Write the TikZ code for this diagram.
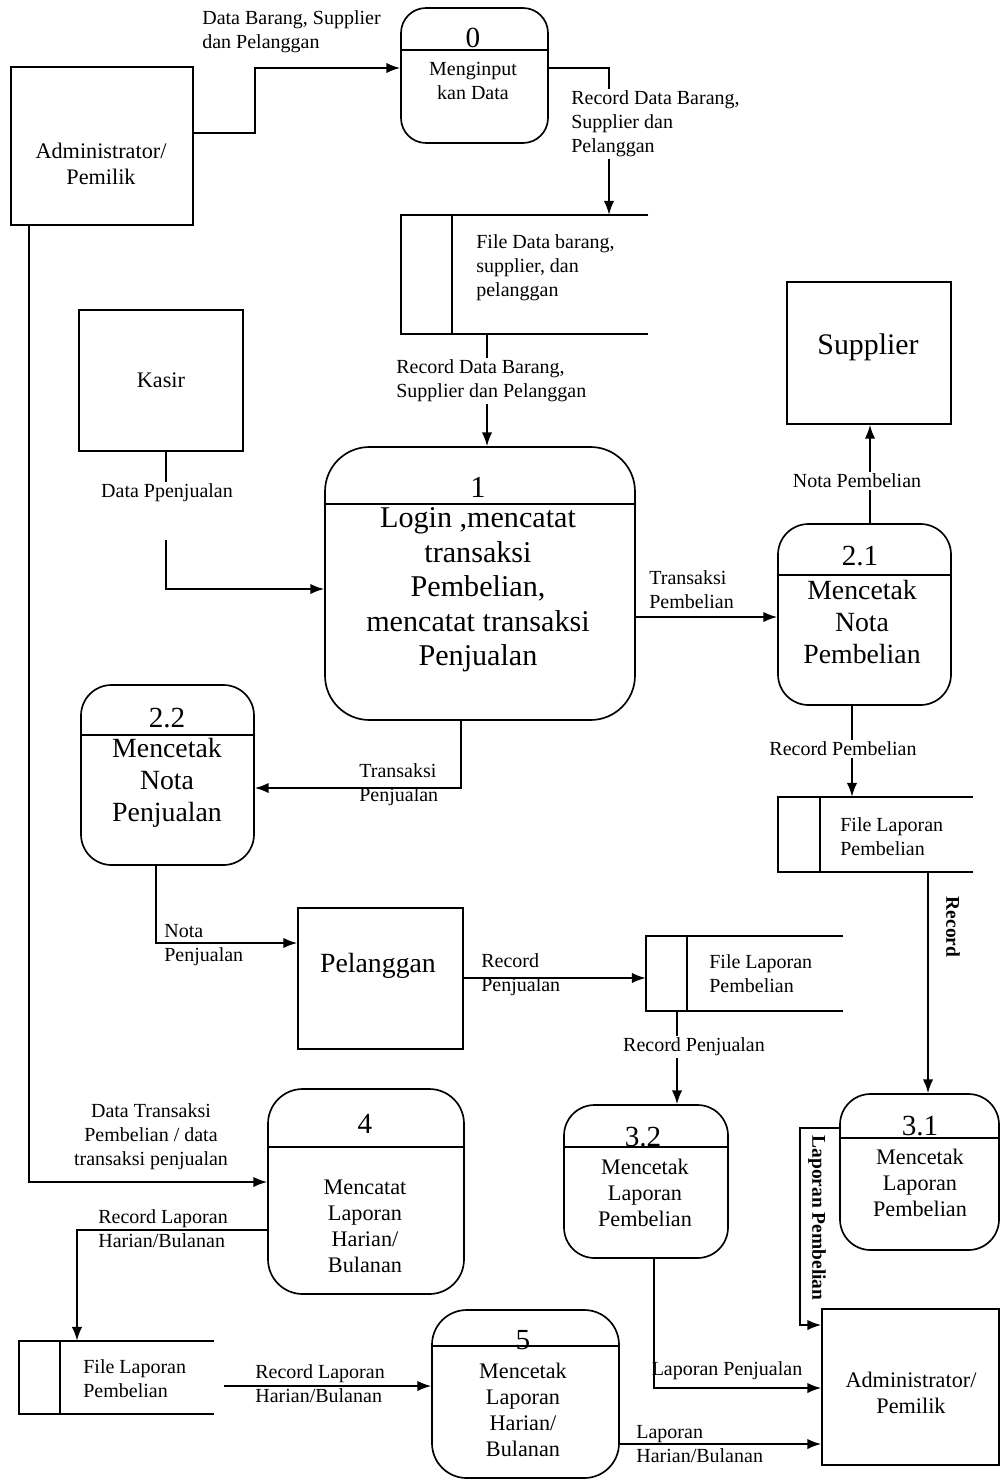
\documentclass[tikz,border=0pt]{standalone}
\usepackage{fontspec}
\setmainfont{Liberation Serif}
\usetikzlibrary{arrows.meta}
\tikzset{
    entity/.style = {rectangle, draw=black, line width=1.2pt, inner sep=0pt},
    proc/.style = {rectangle, draw=black, line width=1.2pt, rounded corners=22pt, inner sep=0pt},
    sz/.style 2 args = {minimum width=#1*0.72pt, minimum height=#2*0.72pt},
    store/.style = {rectangle, inner sep=0pt},
    wire/.style = {line width=1.2pt},
    flow/.style = {-{Latex[length=10pt,width=7.5pt]}, line width=1.2pt},
    lbl/.style = {align=left, inner sep=1.5pt, font=\fontsize{14.4}{17.3}\selectfont},
    lblv/.style = {rotate=-90, inner sep=1.5pt, font=\bfseries\fontsize{14}{17}\selectfont},
    numtxt/.style = {inner sep=0pt, font=\fontsize{21}{25}\selectfont},
    midtxt/.style = {align=center, inner sep=0pt, font=\fontsize{16}{18.7}\selectfont},
    bigtxt/.style = {align=center, inner sep=0pt, font=\fontsize{20}{23}\selectfont},
    hugetxt/.style = {align=center, inner sep=0pt, font=\fontsize{21.7}{24.8}\selectfont}
}
\begin{document}
\begin{tikzpicture}[x=0.72pt, y=-0.72pt]
\useasboundingbox (0,0) rectangle (1000,1480);
%
% external entities
\node[entity, sz={182}{158}] (adm1) at (102,146) {};
\node[midtxt] (adm1t) at (101,164) {Administrator/\\Pemilik};
\node[entity, midtxt, sz={164}{141}] (kasir) at (161,380.5) {Kasir};
\node[entity, sz={164}{142}] (sup) at (869,353) {};
\node[inner sep=0pt, font=\fontsize{21.5}{25}\selectfont] (supt) at (868,347) {Supplier};
\node[entity, sz={165}{141}] (pel) at (380.5,978.5) {};
\node[bigtxt] (pelt) at (378,966) {Pelanggan};
\node[entity, sz={177}{156}] (adm2) at (910.5,1387) {};
\node[midtxt] (adm2t) at (911,1393) {Administrator/\\Pemilik};
%
% processes
\node[proc, sz={147}{135}, rounded corners=18pt] (p0) at (474.5,75.5) {};
\draw[wire] (p0.west |- 0,50) -- (p0.east |- 0,50);
\node[numtxt] (p0n) at (473,38) {0};
\node[lbl, align=center] (p0t) at (473,81) {Menginput\\kan Data};
%
\node[proc, sz={310}{273}, rounded corners=32pt] (p1) at (480,583.5) {};
\draw[wire] (p1.west |- 0,504) -- (p1.east |- 0,504);
\node[numtxt, font=\fontsize{22}{26}\selectfont] (p1n) at (478,487) {1};
\node[hugetxt] (p1t) at (478,590) {Login ,mencatat\\transaksi\\Pembelian,\\mencatat transaksi\\Penjualan};
%
\node[proc, sz={173}{181}] (p21) at (864.5,614.5) {};
\draw[wire] (p21.west |- 0,575) -- (p21.east |- 0,575);
\node[numtxt] (p21n) at (860,556) {2.1};
\node[bigtxt] (p21t) at (862,622) {Mencetak\\Nota\\Pembelian};
%
\node[proc, sz={173}{180}] (p22) at (167.5,775) {};
\draw[wire] (p22.west |- 0,735) -- (p22.east |- 0,735);
\node[numtxt] (p22n) at (167,718) {2.2};
\node[bigtxt] (p22t) at (167,782.5) {Mencetak\\Nota\\Penjualan};
%
\node[proc, sz={164}{153}] (p32) at (646,1181.5) {};
\draw[wire] (p32.west |- 0,1147) -- (p32.east |- 0,1147);
\node[numtxt] (p32n) at (643,1137) {3.2};
\node[midtxt] (p32t) at (645,1193) {Mencetak\\Laporan\\Pembelian};
%
\node[proc, sz={159}{156}] (p31) at (919.5,1172) {};
\draw[wire] (p31.west |- 0,1138) -- (p31.east |- 0,1138);
\node[numtxt] (p31n) at (920,1126) {3.1};
\node[midtxt] (p31t) at (920,1183) {Mencetak\\Laporan\\Pembelian};
%
\node[proc, sz={196}{205}, rounded corners=25pt] (p4) at (366,1191.5) {};
\draw[wire] (p4.west |- 0,1147) -- (p4.east |- 0,1147);
\node[numtxt] (p4n) at (365,1124) {4};
\node[midtxt] (p4t) at (365,1226.5) {Mencatat\\Laporan\\Harian/\\Bulanan};
%
\node[proc, sz={187}{168}, rounded corners=25pt] (p5) at (525.5,1394) {};
\draw[wire] (p5.west |- 0,1346) -- (p5.east |- 0,1346);
\node[numtxt] (p5n) at (523,1340) {5};
\node[midtxt] (p5t) at (523,1410) {Mencetak\\Laporan\\Harian/\\Bulanan};
%
% data stores
\node[store, sz={247}{119}] (s1) at (524.5,274.5) {};
\draw[wire] (s1.north east) -- (s1.north west) -- (s1.south west) -- (s1.south east);
\draw[wire] ([xshift=36.7pt]s1.north west) -- ([xshift=36.7pt]s1.south west);
\node[lbl, anchor=west] (s1t) at (474,267.5) {File Data barang,\\supplier, dan\\pelanggan};
%
\node[store, sz={195}{75}] (s2) at (875.5,834.5) {};
\draw[wire] (s2.north east) -- (s2.north west) -- (s2.south west) -- (s2.south east);
\draw[wire] ([xshift=30.2pt]s2.north west) -- ([xshift=30.2pt]s2.south west);
\node[lbl, anchor=west] (s2t) at (838,837) {File Laporan\\Pembelian};
%
\node[store, sz={197}{75}] (s3) at (744.5,973.5) {};
\draw[wire] (s3.north east) -- (s3.north west) -- (s3.south west) -- (s3.south east);
\draw[wire] ([xshift=29.5pt]s3.north west) -- ([xshift=29.5pt]s3.south west);
\node[lbl, anchor=west] (s3t) at (707,973.5) {File Laporan\\Pembelian};
%
\node[store, sz={195}{73}] (s4) at (116.5,1377.5) {};
\draw[wire] (s4.north east) -- (s4.north west) -- (s4.south west) -- (s4.south east);
\draw[wire] ([xshift=29.5pt]s4.north west) -- ([xshift=29.5pt]s4.south west);
\node[lbl, anchor=west] (s4t) at (81,1378.5) {File Laporan\\Pembelian};
%
% flow labels
\node[lbl, anchor=west] (l1) at (200,32) {Data Barang, Supplier\\dan Pelanggan};
\node[lbl, anchor=west] (l2) at (569,124) {Record Data Barang,\\Supplier dan\\Pelanggan};
\node[lbl, anchor=west] (l3) at (394,381) {Record Data Barang,\\Supplier dan Pelanggan};
\node[lbl] (l4) at (167,493) {Data Ppenjualan};
\node[lbl, anchor=west] (l5) at (647,590) {Transaksi\\Pembelian};
\node[lbl] (l6) at (857,481) {Nota Pembelian};
\node[lbl] (l7) at (843,749) {Record Pembelian};
\node[lblv] (l8) at (953,927) {Record};
\node[lblv] (l9) at (817,1218) {Laporan Pembelian};
\node[lbl, anchor=west] (l10) at (357,785) {Transaksi\\Penjualan};
\node[lbl, anchor=west] (l11) at (162,945) {Nota\\Penjualan};
\node[lbl, anchor=west] (l12) at (479,975) {Record\\Penjualan};
\node[lbl] (l13) at (694,1047) {Record Penjualan};
\node[lbl] (l14) at (727,1371) {Laporan Penjualan};
\node[lbl, align=center] (l15) at (151,1136.5) {Data Transaksi\\Pembelian / data\\transaksi penjualan};
\node[lbl, anchor=west] (l16) at (96,1228.5) {Record Laporan\\Harian/Bulanan};
\node[lbl, anchor=west] (l17) at (253,1384) {Record Laporan\\Harian/Bulanan};
\node[lbl, anchor=west] (l18) at (634,1444.5) {Laporan\\Harian/Bulanan};
%
\coordinate (k1) at (166,540);
\coordinate (s4out) at (224,1386);
%
% flows
\draw[flow] (adm1.east |- 0,133) -- (255,133) |- (p0.west |- 0,68);
\draw[wire] (p0.east |- 0,68) -| (l2.north -| 609,0);
\draw[flow] (l2.south -| 609,0) -- (s1.north -| 609,0);
\draw[wire] (s1.south -| 487,0) -- (l3.north -| 487,0);
\draw[flow] (l3.south -| 487,0) -- (p1.north -| 487,0);
\draw[wire] (kasir.south -| 166,0) -- (l4.north -| 166,0);
\draw[flow] (k1) |- (p1.west |- 0,589);
\draw[flow] (p1.east |- 0,617) -- (p21.west |- 0,617);
\draw[wire] (p21.north -| 870,0) -- (l6.south -| 870,0);
\draw[flow] (l6.north -| 870,0) -- (sup.south -| 870,0);
\draw[wire] (p21.south -| 852,0) -- (l7.north -| 852,0);
\draw[flow] (l7.south -| 852,0) -- (s2.north -| 852,0);
\draw[flow] (s2.south -| 928,0) -- (p31.north -| 928,0);
\draw[flow] (p31.west |- 0,1128) -- (800,1128) -- (800,1325) -- (adm2.west |- 0,1325);
\draw[flow] (p1.south -| 461,0) |- (p22.east |- 0,788);
\draw[flow] (p22.south -| 156,0) |- (pel.west |- 0,943);
\draw[flow] (pel.east |- 0,978) -- (s3.west |- 0,978);
\draw[wire] (s3.south -| 677,0) -- (l13.north -| 677,0);
\draw[flow] (l13.south -| 677,0) -- (p32.north -| 677,0);
\draw[flow] (p32.south -| 654,0) |- (adm2.west |- 0,1388);
\draw[flow] (adm1.south -| 29,0) |- (p4.west |- 0,1182);
\draw[flow] (p4.west |- 0,1230) -| (s4.north -| 77,0);
\draw[flow] (s4out) -- (p5.west |- 0,1386);
\draw[flow] (p5.east |- 0,1444) -- (adm2.west |- 0,1444);

\end{tikzpicture}
\end{document}
